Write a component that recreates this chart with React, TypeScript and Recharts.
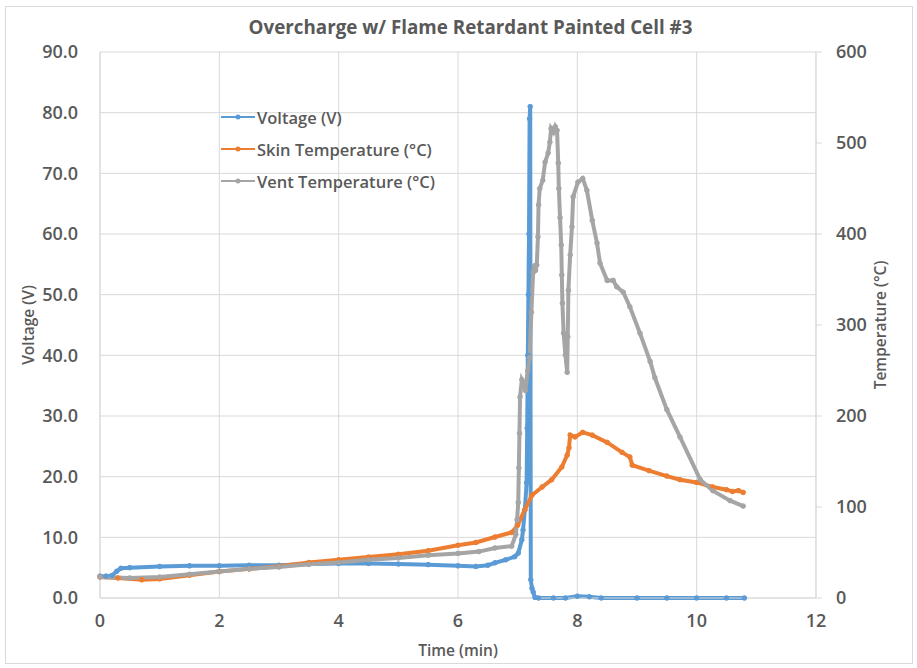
import { LineChart, Line, XAxis, YAxis, CartesianGrid, Legend } from "recharts";

// Time (min) and readings for each channel
const voltageTime = [
  0, 0.1, 0.2, 0.28, 0.35, 0.5, 1.0, 1.5, 2.0, 2.5, 3.0, 3.5, 4.0, 4.5, 5.0, 5.5, 6.0, 6.3, 6.5, 6.62,
  6.8, 6.95, 7.01, 7.07, 7.09, 7.12, 7.15, 7.16, 7.17, 7.18, 7.19, 7.2, 7.21, 7.22, 7.24, 7.26, 7.29,
  7.35, 7.6, 7.8, 8.0, 8.2, 8.4, 9.0, 9.5, 10.0, 10.5, 10.8,
];
const voltageValues = [
  3.6, 3.6, 3.7, 4.4, 4.9, 5.0, 5.2, 5.3, 5.3, 5.4, 5.4, 5.6, 5.7, 5.7, 5.6, 5.5, 5.3, 5.2, 5.4, 5.8,
  6.3, 6.8, 7.4, 9.6, 11.2, 14.5, 19.0, 28.0, 40.0, 50.0, 60.0, 79.0, 81.0, 3.0, 1.6, 1.0, 0.1,
  0.0, 0.0, 0.0, 0.3, 0.2, 0.0, 0.0, 0.0, 0.0, 0.0, 0.0,
];

const skinTime = [
  0, 0.3, 0.7, 1.0, 1.5, 2.0, 2.5, 3.0, 3.5, 4.0, 4.5, 5.0, 5.5, 6.0, 6.3, 6.62, 6.9, 7.0, 7.12,
  7.24, 7.41, 7.57, 7.74, 7.83, 7.86, 7.88, 7.96, 8.09, 8.25, 8.5, 8.75, 8.88, 8.92, 9.2, 9.5, 9.72,
  10.0, 10.27, 10.5, 10.6, 10.7, 10.78,
];
const skinValues = [
  23, 22, 20, 21, 25, 29, 32, 35, 39, 42, 45, 48, 52, 58, 61, 67, 72, 80, 97,
  113, 122, 130, 144, 157, 165, 179, 177, 182, 179, 171, 160, 155, 146, 140, 134, 130,
  127, 122, 119, 117, 118, 116,
];

const ventTime = [
  0, 0.5, 1.0, 1.5, 2.0, 2.5, 3.0, 3.5, 4.0, 4.5, 5.0, 5.5, 6.0, 6.35, 6.62, 6.9, 6.97, 6.99, 7.01,
  7.02, 7.03, 7.04, 7.07, 7.1, 7.13, 7.17, 7.2, 7.23, 7.26, 7.28, 7.3, 7.32, 7.34, 7.35, 7.37, 7.42,
  7.46, 7.51, 7.54, 7.56, 7.6, 7.63, 7.66, 7.68, 7.69, 7.71, 7.73, 7.74, 7.75, 7.77, 7.8, 7.83, 7.84,
  7.85, 7.88, 7.91, 7.93, 8.01, 8.09, 8.16, 8.25, 8.33, 8.38, 8.5, 8.6, 8.66, 8.77, 8.88, 9.05, 9.22,
  9.3, 9.5, 9.72, 10.06, 10.27, 10.56, 10.78,
];
const ventValues = [
  23, 22, 23, 26, 29, 32, 34, 37, 39, 42, 44, 47, 49, 51, 55, 57, 70, 86, 105,
  143, 181, 221, 240, 236, 228, 250, 264, 314, 358, 365, 360, 366, 397, 432, 450, 459,
  479, 489, 501, 516, 512, 518, 514, 478, 450, 418, 388, 355, 324, 291, 267, 248, 287,
  338, 377, 408, 441, 457, 461, 448, 415, 390, 368, 349, 349, 342, 336, 320, 291, 260,
  242, 207, 177, 130, 118, 107, 101,
];

const voltageTicks = [0, 10, 20, 30, 40, 50, 60, 70, 80, 90];
const tempTicks = [0, 100, 200, 300, 400, 500, 600];
const timeTicks = [0, 2, 4, 6, 8, 10, 12];

const zip = (ts: number[], vs: number[]) => ts.map((t, i) => ({ t, y: vs[i] }));

const series = [
  { name: "Voltage (V)", color: "#5b9bd5", axis: "v", data: zip(voltageTime, voltageValues) },
  { name: "Skin Temperature (°C)", color: "#ed7d31", axis: "temp", data: zip(skinTime, skinValues) },
  { name: "Vent Temperature (°C)", color: "#a5a5a5", axis: "temp", data: zip(ventTime, ventValues) },
];

const FONT = '"Open Sans", "Noto Sans", sans-serif';
const TEXT = "#595959";
const GRID = "#d9d9d9";

const LegendBox = () => (
  <div style={{ fontFamily: FONT, fontSize: 16.5, fontWeight: 600, color: TEXT }}>
    {series.map((s) => (
      <div key={s.name} style={{ display: "flex", alignItems: "center", height: 32 }}>
        <svg width={34} height={10} style={{ marginRight: 2 }}>
          <line x1={0} y1={5} x2={34} y2={5} stroke={s.color} strokeWidth={2} />
          <circle cx={17} cy={5} r={2.5} fill={s.color} />
        </svg>
        <span>{s.name}</span>
      </div>
    ))}
  </div>
);

const AxisTitle = ({ viewBox, value, dx }: any) => {
  const x = viewBox.x + dx;
  const y = viewBox.y + viewBox.height / 2;
  return (
    <text
      x={x}
      y={y}
      transform={`rotate(-90, ${x}, ${y})`}
      textAnchor="middle"
      dominantBaseline="central"
      fill={TEXT}
      fontFamily={FONT}
      fontSize={15.5}
      fontWeight={600}
    >
      {value}
    </text>
  );
};

export default function App() {
  const tick = { fill: TEXT, fontFamily: FONT, fontSize: 18, fontWeight: 600 };
  return (
    <div style={{ position: "absolute", left: 0, top: 0, width: 917, height: 668, background: "#fff" }}>
      <div
        style={{
          position: "absolute",
          left: 5,
          top: 6,
          width: 906,
          height: 656,
          border: `1px solid ${GRID}`,
        }}
      />
      <div
        style={{
          position: "absolute",
          left: 0,
          top: 14,
          width: 917,
          textAlign: "center",
          fontFamily: FONT,
          fontSize: 18.8,
          fontWeight: 700,
          color: TEXT,
          paddingLeft: 24,
          boxSizing: "border-box",
        }}
      >
        Overcharge w/ Flame Retardant Painted Cell #3
      </div>
      <LineChart width={917} height={668} margin={{ top: 52, right: 0, bottom: 0, left: 0 }}>
        <CartesianGrid stroke={GRID} yAxisId="v" />
        <XAxis
          type="number"
          dataKey="t"
          domain={[0, 12]}
          ticks={timeTicks}
          allowDuplicatedCategory={false}
          height={70}
          stroke={GRID}
          tickLine={false}
          tickMargin={10}
          tick={tick}
          label={{ value: "Time (min)", position: "insideBottom", offset: 12, fill: TEXT, fontFamily: FONT, fontSize: 15.5, fontWeight: 600 }}
        />
        <YAxis
          yAxisId="v"
          orientation="left"
          width={100}
          domain={[0, 90]}
          ticks={voltageTicks}
          tickFormatter={(v: number) => v.toFixed(1)}
          stroke={GRID}
          tickLine={false}
          tickMargin={16}
          tick={tick}
          label={<AxisTitle value="Voltage (V)" dx={28} />}
        />
        <YAxis
          yAxisId="temp"
          orientation="right"
          width={101}
          domain={[0, 600]}
          ticks={tempTicks}
          stroke={GRID}
          tickSize={6}
          tickMargin={14}
          tick={tick}
          label={<AxisTitle value="Temperature (°C)" dx={64} />}
        />
        <Legend
          layout="vertical"
          align="center"
          verticalAlign="middle"
          wrapperStyle={{ left: 221, top: 101, width: "auto" }}
          content={() => <LegendBox />}
        />
        {series.map((s) => (
          <Line
            key={s.name}
            name={s.name}
            data={s.data}
            dataKey="y"
            yAxisId={s.axis}
            type="linear"
            stroke={s.color}
            strokeWidth={4}
            dot={{ r: 2.3, fill: s.color, stroke: s.color, strokeWidth: 1 }}
            isAnimationActive={false}
          />
        ))}
      </LineChart>
    </div>
  );
}
